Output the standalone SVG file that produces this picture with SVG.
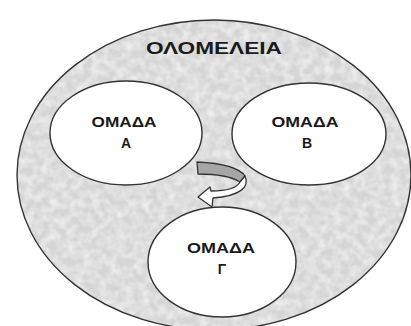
<svg xmlns="http://www.w3.org/2000/svg" width="411" height="326" viewBox="0 0 411 326">
  <defs>
    <style>
      .lbl { font-family: "Liberation Sans", Arial, sans-serif; font-weight: bold; fill: #1a1a1a; text-anchor: middle; }
      .grp { fill: #ffffff; stroke: #333333; stroke-width: 1.4; }
      .arrow { stroke: #333333; stroke-width: 1.3; stroke-linejoin: round; }
    </style>
    <filter id="speckle" x="0" y="0" width="100%" height="100%">
      <feTurbulence type="fractalNoise" baseFrequency="0.12" numOctaves="2" seed="7" result="n"/>
      <feColorMatrix in="n" type="matrix" values="0 0 0 0 1  0 0 0 0 1  0 0 0 0 1  1.6 0 0 0 -0.5" result="w"/>
      <feComposite in="w" in2="SourceGraphic" operator="in"/>
    </filter>
  </defs>
  <rect width="411" height="326" fill="#ffffff"/>
  <g id="olomeleia">
    <ellipse cx="214" cy="175" rx="197" ry="155" fill="#d5d5d5"/>
    <ellipse cx="214" cy="175" rx="197" ry="155" fill="#ffffff" opacity="0.7" filter="url(#speckle)"/>
    <ellipse cx="214" cy="175" rx="197" ry="155" fill="none" stroke="#333333" stroke-width="1.4"/>
    <text class="lbl" x="214" y="54" font-size="16.5" textLength="136" lengthAdjust="spacingAndGlyphs">ΟΛΟΜΕΛΕΙΑ</text>
  </g>
  <g id="omada-a">
    <ellipse class="grp" cx="126" cy="133" rx="76" ry="52"/>
    <text class="lbl" x="124" y="127" font-size="14" textLength="65" lengthAdjust="spacingAndGlyphs">ΟΜΑΔΑ</text>
    <text class="lbl" x="126" y="148" font-size="14">Α</text>
  </g>
  <g id="omada-b">
    <ellipse class="grp" cx="309" cy="134" rx="77" ry="51"/>
    <text class="lbl" x="305" y="127" font-size="14" textLength="67" lengthAdjust="spacingAndGlyphs">ΟΜΑΔΑ</text>
    <text class="lbl" x="307" y="148" font-size="14">Β</text>
  </g>
  <g id="omada-g">
    <ellipse class="grp" cx="222" cy="262" rx="74" ry="55"/>
    <text class="lbl" x="221" y="253" font-size="14" textLength="68" lengthAdjust="spacingAndGlyphs">ΟΜΑΔΑ</text>
    <text class="lbl" x="222" y="274" font-size="14">Γ</text>
  </g>
  <g id="connectors">
    <path class="arrow" fill="#a6a6a6" d="M197,162 C218,163 238,166 245,176 L240,182 C232,177 216,174 198,174 Z"/>
    <path class="arrow" fill="#ffffff" d="M245,176 C250,187 240,196 213,198 L212,207 L198,197 L210,187 L211,191 C227,191 237,188 240,182 Z"/>
  </g>
</svg>
